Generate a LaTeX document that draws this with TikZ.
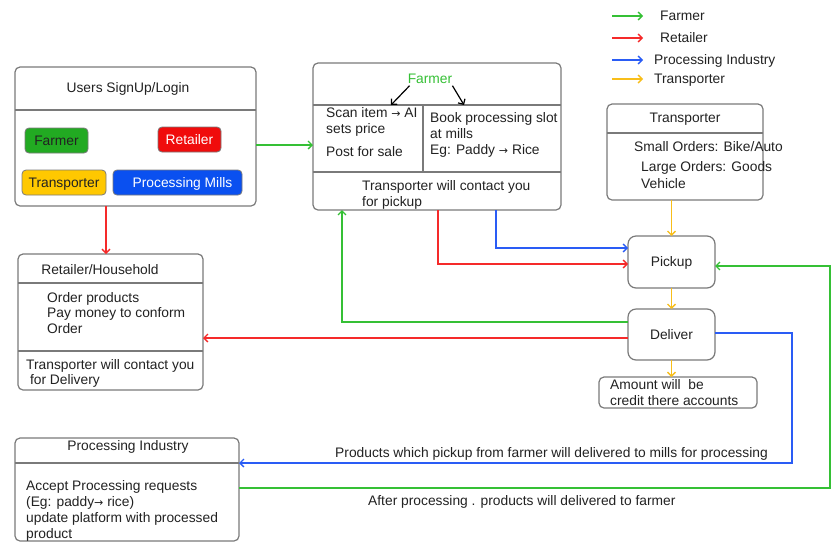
\documentclass[tikz,border=0pt]{standalone}
\usepackage{fontspec}
\setmainfont{Liberation Sans}
\newfontfamily\arrfont{DejaVu Sans}
\newcommand{\rar}{{\arrfont\fontsize{11}{14}\selectfont →}}
\usetikzlibrary{arrows.meta}
\definecolor{boxgray}{HTML}{7A7A7A}
\definecolor{txtc}{HTML}{222222}
\definecolor{cgreen}{HTML}{35C035}
\definecolor{cred}{HTML}{F52A2A}
\definecolor{cblue}{HTML}{2A5CF5}
\definecolor{cyellow}{HTML}{F8BE1A}
\definecolor{pgreen}{HTML}{22AA22}
\definecolor{pred}{HTML}{F00C0C}
\definecolor{pyellow}{HTML}{FFC800}
\definecolor{pblue}{HTML}{0A50F0}
\begin{document}
\begin{tikzpicture}[x=1pt,y=-1pt,
  >={Straight Barb[length=4pt,width=8pt]},
  box/.style={draw=boxgray, line width=1.2pt, rounded corners=5pt, anchor=north west, inner sep=0pt, outer sep=0pt},
  rbox/.style={box, rounded corners=8pt},
  pill/.style={draw=boxgray, line width=0.8pt, rounded corners=4pt, anchor=north west, inner sep=0pt, outer sep=0pt},
  txt/.style={anchor=west, inner sep=0pt, text=txtc, font=\fontsize{13.8}{16}\selectfont, text height=11pt, text depth=2pt},
  ctxt/.style={txt, anchor=center},
  div/.style={draw=boxgray, line width=1.2pt},
  gline/.style={draw=cgreen, line width=1.3pt, ->},
  rline/.style={draw=cred, line width=1.3pt, ->},
  bline/.style={draw=cblue, line width=1.3pt, ->},
  yline/.style={draw=cyellow, line width=1.4pt, ->},
  kline/.style={draw=black, line width=1.2pt, ->}
]
\useasboundingbox[fill=white] (0,0) rectangle (840,558);

% ---------- Legend ----------
\coordinate (lg1a) at (612,16); \coordinate (lg1b) at (643,16);
\coordinate (lg2a) at (612,38); \coordinate (lg2b) at (643,38);
\coordinate (lg3a) at (612,60); \coordinate (lg3b) at (643,60);
\coordinate (lg4a) at (612,79); \coordinate (lg4b) at (643,79);
\draw[gline] (lg1a) -- (lg1b);
\draw[rline] (lg2a) -- (lg2b);
\draw[bline] (lg3a) -- (lg3b);
\draw[yline] (lg4a) -- (lg4b);
\node[txt] (lgt1) at (660,16) {Farmer};
\node[txt] (lgt2) at (660,38) {Retailer};
\node[txt] (lgt3) at (654,60) {Processing Industry};
\node[txt] (lgt4) at (654,79) {Transporter};

% ---------- Users box ----------
\node[box, minimum width=241pt, minimum height=139pt] (users) at (15,67) {};
\draw[div] (users.west |- 0,110) -- (users.east |- 0,110);
\node[ctxt] (userst) at (128,88) {Users SignUp/Login};
\node[pill, fill=pgreen, minimum width=63pt, minimum height=25pt] (pfarmer) at (25,128) {};
\node[ctxt] (pfarmert) at (pfarmer.center) {Farmer};
\node[pill, fill=pred, minimum width=63pt, minimum height=25pt] (pretailer) at (158,127) {};
\node[ctxt, text=white] (pretailert) at (pretailer.center) {Retailer};
\node[pill, fill=pyellow, minimum width=84pt, minimum height=25pt] (ptrans) at (22,170) {};
\node[ctxt] (ptranst) at (ptrans.center) {Transporter};
\node[pill, fill=pblue, minimum width=129pt, minimum height=25pt] (pmills) at (113,170) {};
\node[ctxt, text=white] (pmillst) at ([xshift=5pt]pmills.center) {Processing Mills};

% ---------- Farmer box ----------
\node[box, minimum width=248pt, minimum height=147pt] (farmer) at (313,63) {};
\draw[div] (farmer.west |- 0,105) -- (farmer.east |- 0,105);
\draw[div] (farmer.west |- 0,172) -- (farmer.east |- 0,172);
\draw[div] (423,105) -- (423,172);
\node[ctxt, text=cgreen] (farmert) at (430,79) {Farmer};
\coordinate (fa1) at (391,105);
\coordinate (fa2) at (464,105);
\draw[kline] (farmert.south west) ++(2,0) -- (fa1);
\draw[kline] (farmert.south east) ++(0,0) -- (fa2);
\node[txt] (f1) at (326,113) {Scan item \rar\ AI};
\node[txt] (f2) at (326,129) {sets price};
\node[txt] (f3) at (326,152) {Post for sale};
\node[txt] (f4) at (430,118) {Book processing slot};
\node[txt] (f5) at (430,134) {at mills};
\node[txt] (f6) at (430,150) {Eg: Paddy \rar\ Rice};
\node[txt] (f7) at (362,186) {Transporter will contact you};
\node[txt] (f8) at (362,202) {for pickup};

% ---------- Transporter box ----------
\node[box, minimum width=156pt, minimum height=96pt] (trans) at (607,104) {};
\draw[div] (trans.west |- 0,133) -- (trans.east |- 0,133);
\node[ctxt] (transt) at (685,118) {Transporter};
\node[txt] (t1) at (634,147) {Small Orders: Bike/Auto};
\node[txt] (t2) at (641,167) {Large Orders: Goods};
\node[txt] (t3) at (641,184) {Vehicle};

% ---------- Pickup / Deliver / Amount ----------
\node[rbox, minimum width=87pt, minimum height=52pt] (pickup) at (628,236) {};
\node[ctxt] (pickupt) at (pickup.center) {Pickup};
\node[rbox, minimum width=87pt, minimum height=51pt] (deliver) at (628,309) {};
\node[ctxt] (delivert) at (deliver.center) {Deliver};
\node[box, minimum width=158pt, minimum height=31pt] (amount) at (599,377) {};
\node[txt] (a1) at (610,385) {Amount will\ \ be};
\node[txt] (a2) at (610,401) {credit there accounts};

% ---------- Retailer box ----------
\node[box, minimum width=185pt, minimum height=136pt] (retail) at (18,254) {};
\draw[div] (retail.west |- 0,283) -- (retail.east |- 0,283);
\draw[div] (retail.west |- 0,351) -- (retail.east |- 0,351);
\node[ctxt] (retailt) at (100,270) {Retailer/Household};
\node[txt] (r1) at (47,298) {Order products};
\node[txt] (r2) at (47,313) {Pay money to conform};
\node[txt] (r3) at (47,329) {Order};
\node[txt] (r4) at (26,365) {Transporter will contact you};
\node[txt] (r5) at (26,380) {\ for Delivery};

% ---------- Processing Industry box ----------
\node[box, minimum width=224pt, minimum height=103pt] (proc) at (15,438) {};
\draw[div] (proc.west |- 0,463) -- (proc.east |- 0,463);
\node[ctxt] (proct) at (128,446) {Processing Industry};
\node[txt] (p1) at (26,486) {Accept Processing requests};
\node[txt] (p2) at (26,502) {(Eg: paddy\rar\ rice)};
\node[txt] (p3) at (26,518) {update platform with processed};
\node[txt] (p4) at (26,534) {product};

% ---------- Connectors ----------
\draw[gline] (users.east |- 0,145) -- (farmer.west |- 0,145);
\draw[rline] (users.south -| 106,0) -- (retail.north -| 106,0);
\draw[bline] (farmer.south -| 496,0) |- (pickup.west |- 0,248);
\draw[rline] (farmer.south -| 438,0) |- (pickup.west |- 0,264);
\draw[yline] (trans.south -| pickup.north) -- (pickup.north);
\draw[yline] (pickup.south) -- (deliver.north);
\draw[yline] (deliver.south) -- (amount.north -| deliver.south);
\draw[gline] (deliver.west |- 0,322) -| (farmer.south -| 342,0);
\draw[rline] (deliver.west |- 0,338) -- (retail.east |- 0,338);
\draw[bline] (deliver.east |- 0,333) -- (792,333) |- (proc.east |- 0,463);
\draw[gline] (proc.east |- 0,488) -- (830,488) |- (pickup.east |- 0,266);

\node[txt] (lbl1) at (335,453) {Products which pickup from farmer will delivered to mills for processing};
\node[txt] (lbl2) at (368,501) {After processing . products will delivered to farmer};
\end{tikzpicture}
\end{document}
